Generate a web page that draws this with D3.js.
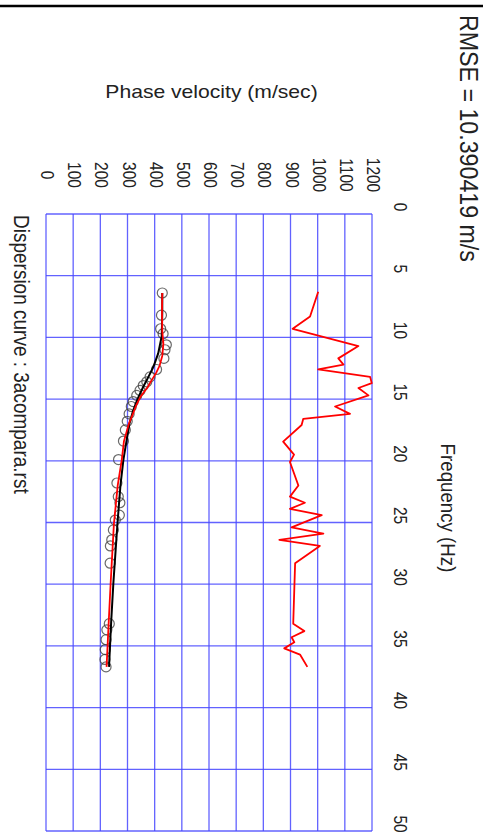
<!DOCTYPE html>
<html><head><meta charset="utf-8">
<script src="https://cdn.jsdelivr.net/npm/d3@7"></script>
<style>
html,body{margin:0;padding:0;background:#fff;}
svg{display:block;font-family:"Liberation Sans",Arial,Helvetica,sans-serif;}
</style>
</head><body><div id="chart"></div>
<script>
// ---- data ----
const velocityTicks = [0,100,200,300,400,500,600,700,800,900,1000,1100,1200];
const frequencyTicks = [0,5,10,15,20,25,30,35,40,45,50];

const obsFreq = [6.4,8.2,9.3,9.7,10.6,11.0,11.7,12.6,13.2,13.6,13.9,14.3,14.7,15.2,15.6,16.2,16.8,17.5,18.4,19.9,21.8,22.9,23.4,24.4,24.8,25.6,26.4,26.9,28.3,33.2,33.7,34.5,35.3,36.1,36.7];
const obsVel  = [428,425,422,431,443,438,434,407,383,371,358,346,334,321,314,306,299,292,285,267,261,266,272,270,255,248,242,237,236,233,224,221,218,217,221];

const fitFreq = [6.4,8.0,9.5,10.5,11.5,12.3,12.9,13.5,14.0,14.8,15.5,16.2,17.0,18.4,19.9,22.0,25.1,29.9,33.0,36.7];
const fitVel  = [428,427,428,432,428,418,405,388,375,348,332,320,305,287,279,264,250,238,231,223];

const initFreq = [6.4,8.0,9.9,11.3,12.4,13.2,14.0,15.0,15.9,17.0,18.3,19.9,22.0,25.1,29.9,33.0,36.7];
const initVel  = [428,428,426,413,395,377,358,337,321,307,297,285,274,263,248,240,232];

const misfitFreq = [6.3,8.3,9.3,10.7,11.7,12.2,12.6,13.2,13.7,14.1,14.7,15.6,16.2,16.6,17.1,18.45,19.5,20.1,22.0,22.9,23.4,23.9,24.4,25.4,25.9,26.4,26.9,28.3,33.2,33.8,34.3,34.7,35.2,35.7,36.7];
const misfitVel  = [1002,972,908,1150,1076,1095,1002,1193,1199,1150,1187,1064,1119,947,941,873,913,898,929,898,953,898,1015,904,1021,859,1008,917,910,951,904,914,877,935,962];

const titleText = "RMSE = 10.390419 m/s";
const xTitle = "Frequency (Hz)";
const yTitle = "Phase velocity (m/sec)";
const footText = "Dispersion curve : 3acompara.rst";

// ---- drawing ----
const W = 483, H = 834, SX = 1.13;
const svg = d3.select("#chart").append("svg").attr("width", W).attr("height", H);
svg.append("rect").attr("width", W).attr("height", H).attr("fill", "#fff");
svg.append("line").attr("x1", 0).attr("x2", W).attr("y1", 6).attr("y2", 6)
  .attr("stroke", "#000").attr("stroke-width", 2.4);

const vx = d3.scaleLinear().domain([0, 1200]).range([46, 372]);
const fy = d3.scaleLinear().domain([0, 50]).range([214, 831]);

const gridColor = "rgb(70,70,255)";
const grid = svg.append("g").attr("stroke", gridColor).attr("stroke-width", 1.3).attr("stroke-opacity", 0.85);
grid.selectAll("line.v").data(velocityTicks).join("line").attr("class", "v")
  .attr("x1", d => vx(d)).attr("x2", d => vx(d)).attr("y1", fy(0)).attr("y2", fy(50));
grid.selectAll("line.h").data(frequencyTicks).join("line").attr("class", "h")
  .attr("y1", d => fy(d)).attr("y2", d => fy(d)).attr("x1", vx(0)).attr("x2", vx(1200));

function rotText(x, y, txt, size, anchor) {
  return svg.append("text")
    .attr("transform", `translate(${x},${y}) scale(${SX},1) rotate(90)`)
    .attr("font-size", size).attr("text-anchor", anchor).attr("fill", "#222").text(txt);
}

// velocity tick labels
velocityTicks.forEach(v => rotText(vx(v) - 5, 175, String(v), 15.5, "middle"));
// frequency tick labels
frequencyTicks.forEach(f => rotText(393.5, fy(f) - 7, String(f), 15.5, "middle"));

rotText(460, 15, titleText, 23.2, "start");
rotText(441, 508, xTitle, 18.7, "middle");
rotText(13.5, 215, footText, 19, "start");

svg.append("text").attr("transform", `translate(211.5,98) scale(${SX},1)`)
  .attr("font-size", 18.7).attr("text-anchor", "middle").attr("fill", "#222").text(yTitle);

// observed points
svg.append("g").selectAll("circle").data(obsFreq.map((f, i) => [f, obsVel[i]])).join("circle")
  .attr("cx", d => vx(d[1])).attr("cy", d => fy(d[0])).attr("r", 5)
  .attr("fill", "none").attr("stroke", "#444").attr("stroke-opacity", 0.8).attr("stroke-width", 1.2);

const line = d3.line().x(d => vx(d[1])).y(d => fy(d[0]));
svg.append("path").datum(initFreq.map((f, i) => [f, initVel[i]])).attr("d", line)
  .attr("fill", "none").attr("stroke", "#000").attr("stroke-width", 2);
svg.append("path").datum(fitFreq.map((f, i) => [f, fitVel[i]])).attr("d", line)
  .attr("fill", "none").attr("stroke", "#ff0000").attr("stroke-width", 1.8);
svg.append("path").datum(misfitFreq.map((f, i) => [f, misfitVel[i]])).attr("d", line)
  .attr("fill", "none").attr("stroke", "#ff0000").attr("stroke-width", 1.8).attr("stroke-linejoin", "round");
</script>
</body></html>
